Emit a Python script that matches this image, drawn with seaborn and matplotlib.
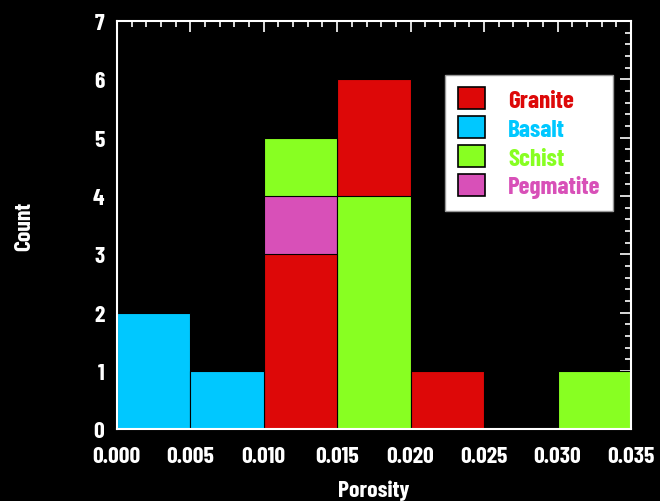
import numpy as np
import pandas as pd
import matplotlib.pyplot as plt
import matplotlib.patches as mpatches
from matplotlib.ticker import MultipleLocator
import seaborn as sns

sns.set_style('dark')
plt.rcParams['font.family'] = ['Barlow Condensed', 'DejaVu Sans']
plt.rcParams['font.weight'] = 'bold'

# histogram bins and per-rock counts
bin_edges = [0.000, 0.005, 0.010, 0.015, 0.020, 0.025, 0.030, 0.035]
rocks = ['Granite', 'Basalt', 'Schist', 'Pegmatite']
granite = [0, 0, 3, 6, 1, 0, 0]
basalt = [2, 1, 0, 0, 0, 0, 0]
schist = [0, 0, 5, 4, 0, 0, 1]
pegmatite = [0, 0, 4, 0, 0, 0, 0]
colors = ['#DD0808', '#00C8FF', '#88FF22', '#D850B8']

centers = [(a + b) / 2 for a, b in zip(bin_edges[:-1], bin_edges[1:])]
rows = []
for name, counts in zip(rocks, [granite, basalt, schist, pegmatite]):
    for c, n in zip(centers, counts):
        rows.append({'rock': name, 'porosity': c, 'count': n})
df = pd.DataFrame(rows)

fig = plt.figure(figsize=(6.6, 5.02), dpi=100, facecolor='black')
ax = fig.add_axes([0.177, 0.143, 0.779, 0.813])
ax.set_facecolor('black')

sns.histplot(data=df, x='porosity', weights='count', hue='rock', hue_order=rocks,
             bins=bin_edges, multiple='layer', palette=colors, alpha=1,
             edgecolor='black', linewidth=0.8, legend=False, ax=ax)

# taller bars go behind shorter ones
for p in ax.patches:
    p.set_zorder(10 - p.get_height())

ax.set_xlim(0, 0.035)
ax.set_ylim(0, 7)
ax.xaxis.set_major_locator(MultipleLocator(0.005))
ax.xaxis.set_minor_locator(MultipleLocator(0.001))
ax.yaxis.set_major_locator(MultipleLocator(1))
ax.yaxis.set_minor_locator(MultipleLocator(0.2))
ax.xaxis.set_major_formatter(plt.FormatStrFormatter('%.3f'))
ax.grid(False)
ax.tick_params(which='both', direction='in', top=True, right=True, colors='white',
               labelcolor='white', labelsize=17, width=1.2)
ax.tick_params(which='major', length=8)
ax.tick_params(axis='x', which='major', pad=12)
ax.tick_params(axis='y', which='major', pad=9)
ax.tick_params(which='minor', length=4)
for s in ax.spines.values():
    s.set_color('white')
    s.set_linewidth(1.5)
    s.set_zorder(20)

ax.set_xlabel('Porosity', color='white', fontsize=17, fontweight='bold', labelpad=10)
ax.set_ylabel('Count', color='white', fontsize=17, fontweight='bold', labelpad=42)

handles = [mpatches.Patch(facecolor=c, edgecolor='black', linewidth=1.2) for c in colors]
leg = ax.legend(handles, rocks, loc='upper right', bbox_to_anchor=(0.965, 0.868),
                labelcolor=colors, fontsize=18, frameon=True, fancybox=False,
                handlelength=1.1, handleheight=0.95, handletextpad=0.9,
                labelspacing=0.18, borderpad=0.5, borderaxespad=0)
leg.get_frame().set_facecolor('white')
leg.get_frame().set_edgecolor('#999999')
leg.get_frame().set_alpha(1)
leg.set_zorder(30)

plt.savefig('out.png', dpi=100, facecolor='black')
